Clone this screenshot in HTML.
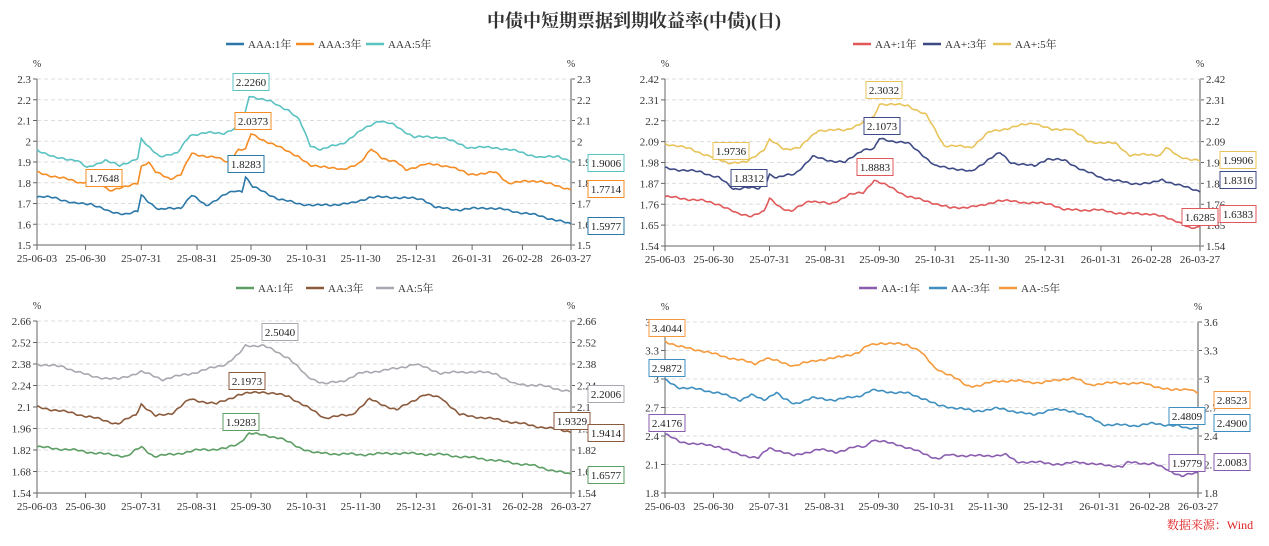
<!DOCTYPE html>
<html><head><meta charset="utf-8">
<style>
body{margin:0;background:#fff;width:1269px;height:541px;overflow:hidden;font-family:"Liberation Serif","Noto Serif CJK SC",serif;}
svg text{font-family:"Liberation Serif","Noto Serif CJK SC",serif;}
</style></head><body>
<svg id="s" width="1269" height="541" xmlns="http://www.w3.org/2000/svg">
<text x="634" y="27" text-anchor="middle" font-size="18" font-weight="bold" fill="#333">中债中短期票据到期收益率(中债)(日)</text>
<text x="1210" y="529" text-anchor="middle" font-size="12" fill="#e02020">数据来源：Wind</text>
</svg>
<script>
const S=document.getElementById('s');const NS='http://www.w3.org/2000/svg';
function el(t,a,txt){const e=document.createElementNS(NS,t);for(const k in a)e.setAttribute(k,a[k]);if(txt!==undefined)e.textContent=txt;S.appendChild(e);return e;}
const ticks=[[0,'25-06-03'],[27,'25-06-30'],[58,'25-07-31'],[89,'25-08-31'],[119,'25-09-30'],[150,'25-10-31'],[180,'25-11-30'],[211,'25-12-31'],[242,'26-01-31'],[270,'26-02-28'],[297,'26-03-27']];
function interp(kp,d){for(let i=0;i<kp.length-1;i++){if(d>=kp[i][0]&&d<=kp[i+1][0]){const t=(d-kp[i][0])/(kp[i+1][0]-kp[i][0]);return kp[i][1]+(kp[i+1][1]-kp[i][1])*t;}}return kp[kp.length-1][1];}
function chart(c){
 const {x0,x1,y0,y1,min,max,step,dec}=c;
 const Y=v=>y1-(v-min)/(max-min)*(y1-y0);const X=d=>x0+d/297*(x1-x0);
 for(let v=min;v<=max+1e-9;v+=step){const y=Y(v);const l=(+v.toFixed(dec)).toString();
  if(v>min+1e-9)el('line',{x1:x0,x2:x1,y1:y,y2:y,stroke:'#ddd','stroke-dasharray':'4,3'});
  el('line',{x1:x0-4,x2:x0,y1:y,y2:y,stroke:'#666'});el('line',{x1:x1,x2:x1+4,y1:y,y2:y,stroke:'#666'});
  el('text',{x:x0-6,y:y+4,'text-anchor':'end','font-size':11,fill:'#333'},l);
  el('text',{x:x1+6,y:y+4,'font-size':11,fill:'#333'},l);}
 el('line',{x1:x0,x2:x0,y1:y0,y2:y1,stroke:'#666'});el('line',{x1:x1,x2:x1,y1:y0,y2:y1,stroke:'#aaa','stroke-width':2});
 el('line',{x1:x0,x2:x1,y1:y1,y2:y1,stroke:'#666'});
 el('text',{x:x0,y:y0-12,'text-anchor':'middle','font-size':10,fill:'#333'},'%');
 el('text',{x:x1,y:y0-12,'text-anchor':'middle','font-size':10,fill:'#333'},'%');
 ticks.forEach(([d,l])=>{const x=X(d);el('line',{x1:x,x2:x,y1:y1,y2:y1+5,stroke:'#666'});el('text',{x:x,y:y1+17,'text-anchor':'middle','font-size':11,fill:'#333'},l);});
 let lx=c.lx;c.series.forEach((s,i)=>{el('line',{x1:lx,x2:lx+18,y1:c.ly,y2:c.ly,stroke:s.c,'stroke-width':2.5});el('text',{x:lx+22,y:c.ly+4,'font-size':11,fill:'#333'},s.n);lx+=70;});
 c.series.forEach((s,si)=>{let p='';for(let d=0;d<=297;d++){let v=interp(s.k,d);v+=(max-min)*0.004*(Math.sin(d*1.3+si)+Math.sin(d*0.37+si*2));p+=(d?'L':'M')+X(d).toFixed(1)+','+Y(v).toFixed(1);}
  el('path',{d:p,fill:'none',stroke:s.c,'stroke-width':1.6});});
 c.boxes.forEach(([t,cx,cy,col])=>{el('rect',{x:cx-18,y:cy-8.5,width:36,height:17,fill:'#fff',stroke:col,'stroke-width':1});el('text',{x:cx,y:cy+4,'text-anchor':'middle','font-size':11,fill:'#222'},t);});
}
const aaa=['#2a77a8','#f58c24','#5bc2c2'],aap=['#e0585a','#3d4a85','#e8c35a'],aa=['#5c9e64','#8b5a3c','#a8a8b0'],aam=['#8a5cb0','#3e8fc0','#f59a3c'];
chart({x0:37,x1:571,y0:79,y1:245,min:1.5,max:2.3,step:0.1,dec:1,lx:226,ly:44,series:[
{n:'AAA:1年',c:aaa[0],k:[[0,1.73],[10,1.73],[20,1.70],[30,1.70],[40,1.66],[50,1.65],[56,1.66],[58,1.74],[62,1.71],[68,1.67],[80,1.68],[86,1.74],[94,1.69],[104,1.74],[110,1.76],[114,1.76],[116,1.83],[120,1.78],[135,1.72],[145,1.70],[155,1.69],[175,1.70],[185,1.73],[200,1.73],[215,1.72],[222,1.68],[235,1.67],[250,1.68],[260,1.67],[280,1.64],[297,1.60]]},
{n:'AAA:3年',c:aaa[1],k:[[0,1.85],[15,1.82],[25,1.80],[32,1.82],[40,1.765],[50,1.78],[56,1.80],[58,1.88],[62,1.90],[66,1.85],[74,1.82],[80,1.84],[86,1.94],[100,1.92],[106,1.90],[112,1.96],[116,1.96],[119,2.035],[125,2.01],[135,1.97],[145,1.93],[152,1.88],[160,1.88],[170,1.86],[180,1.90],[186,1.96],[192,1.92],[200,1.90],[205,1.86],[215,1.89],[230,1.88],[240,1.84],[255,1.85],[262,1.80],[280,1.81],[290,1.78],[297,1.77]]},
{n:'AAA:5年',c:aaa[2],k:[[0,1.96],[10,1.92],[22,1.91],[28,1.87],[38,1.91],[46,1.88],[56,1.92],[58,2.01],[62,1.97],[68,1.93],[78,1.94],[85,2.03],[95,2.04],[104,2.04],[110,2.06],[114,2.07],[118,2.22],[130,2.19],[140,2.15],[146,2.10],[152,1.98],[158,1.96],[170,1.99],[182,2.06],[190,2.10],[198,2.08],[210,2.02],[225,2.02],[240,1.97],[255,1.97],[268,1.95],[280,1.92],[290,1.93],[297,1.90]]}],
boxes:[['2.2260',251,82,aaa[2]],['2.0373',253,121,aaa[1]],['1.8283',246,164,aaa[0]],['1.7648',104,178,aaa[1]],['1.9006',606,163,aaa[2]],['1.7714',606,189,aaa[1]],['1.5977',606,226,aaa[0]]]});
chart({x0:665,x1:1200,y0:79,y1:246,min:1.54,max:2.42,step:0.11,dec:2,lx:853,ly:44,series:[
{n:'AA+:1年',c:aap[0],k:[[0,1.80],[20,1.78],[30,1.76],[40,1.71],[48,1.70],[55,1.72],[58,1.79],[65,1.74],[70,1.72],[80,1.78],[92,1.76],[102,1.81],[110,1.82],[116,1.888],[125,1.85],[135,1.80],[148,1.77],[158,1.74],[175,1.75],[185,1.78],[200,1.77],[215,1.76],[222,1.73],[240,1.73],[255,1.71],[270,1.71],[285,1.67],[292,1.63],[297,1.64]]},
{n:'AA+:3年',c:aap[1],k:[[0,1.95],[20,1.93],[30,1.90],[38,1.84],[45,1.85],[52,1.84],[56,1.87],[58,1.92],[62,1.90],[72,1.92],[82,2.01],[92,1.99],[100,1.98],[110,2.05],[116,2.05],[119,2.105],[135,2.08],[142,2.03],[150,1.96],[160,1.95],[170,1.93],[180,2.00],[186,2.03],[192,1.98],[205,1.96],[212,2.00],[222,1.99],[232,1.94],[242,1.90],[258,1.87],[270,1.87],[276,1.89],[285,1.86],[297,1.83]]},
{n:'AA+:5年',c:aap[2],k:[[0,2.08],[15,2.05],[25,2.01],[35,1.98],[45,1.98],[55,2.05],[58,2.10],[66,2.05],[75,2.06],[85,2.15],[100,2.15],[110,2.19],[116,2.22],[119,2.29],[135,2.28],[145,2.23],[155,2.07],[170,2.06],[180,2.14],[195,2.17],[205,2.19],[215,2.15],[225,2.16],[235,2.09],[250,2.08],[258,2.02],[275,2.02],[278,2.06],[285,2.01],[297,1.99]]}],
boxes:[['2.3032',884,90,aap[2]],['2.1073',882,126,aap[1]],['1.9736',731,151,aap[2]],['1.8312',749,178,aap[1]],['1.8883',875,167,aap[0]],['1.9906',1238,160,aap[2]],['1.8316',1238,180,aap[1]],['1.6383',1238,214,aap[0]],['1.6285',1200,217,aap[0]]]});
chart({x0:37,x1:571,y0:321,y1:493,min:1.54,max:2.66,step:0.14,dec:2,lx:236,ly:288,series:[
{n:'AA:1年',c:aa[0],k:[[0,1.84],[20,1.82],[40,1.79],[50,1.78],[58,1.84],[65,1.78],[75,1.79],[90,1.82],[105,1.83],[112,1.86],[118,1.93],[135,1.90],[145,1.84],[155,1.80],[180,1.79],[200,1.80],[225,1.79],[250,1.76],[275,1.72],[297,1.66]]},
{n:'AA:3年',c:aa[1],k:[[0,2.10],[20,2.06],[35,2.02],[45,1.99],[55,2.05],[58,2.12],[66,2.04],[75,2.06],[85,2.15],[100,2.12],[112,2.18],[125,2.20],[140,2.17],[150,2.10],[160,2.03],[175,2.05],[185,2.15],[200,2.08],[215,2.18],[225,2.16],[235,2.05],[255,2.02],[275,1.98],[297,1.94]]},
{n:'AA:5年',c:aa[2],k:[[0,2.38],[15,2.36],[30,2.30],[45,2.28],[58,2.33],[70,2.28],[90,2.33],[105,2.38],[112,2.44],[116,2.50],[126,2.50],[140,2.42],[150,2.30],[160,2.25],[170,2.27],[180,2.32],[200,2.35],[210,2.38],[225,2.32],[240,2.33],[255,2.32],[265,2.25],[280,2.24],[297,2.20]]}],
boxes:[['2.5040',280,332,aa[2]],['2.1973',247,381,aa[1]],['1.9283',241,422,aa[0]],['1.9329',572,421,aa[1]],['2.2006',606,394,aa[2]],['1.9414',606,433,aa[1]],['1.6577',606,475,aa[0]]]});
chart({x0:665,x1:1198,y0:322,y1:493,min:1.8,max:3.6,step:0.3,dec:1,lx:859,ly:288,series:[
{n:'AA-:1年',c:aam[0],k:[[0,2.42],[8,2.34],[20,2.31],[30,2.29],[40,2.21],[52,2.17],[58,2.27],[65,2.24],[72,2.19],[85,2.26],[95,2.23],[105,2.28],[112,2.29],[115,2.36],[130,2.31],[142,2.23],[152,2.16],[158,2.20],[175,2.19],[190,2.20],[196,2.13],[210,2.12],[222,2.10],[230,2.13],[240,2.10],[255,2.08],[258,2.12],[272,2.11],[278,2.06],[288,1.98],[297,2.01]]},
{n:'AA-:3年',c:aam[1],k:[[0,2.99],[8,2.91],[20,2.89],[30,2.85],[42,2.78],[48,2.83],[55,2.78],[62,2.86],[66,2.79],[72,2.74],[82,2.80],[95,2.78],[108,2.82],[115,2.88],[135,2.85],[145,2.79],[152,2.72],[165,2.69],[172,2.66],[185,2.69],[195,2.66],[205,2.62],[215,2.68],[228,2.66],[238,2.58],[245,2.52],[262,2.51],[272,2.53],[285,2.51],[290,2.48],[297,2.49]]},
{n:'AA-:5年',c:aam[2],k:[[0,3.40],[8,3.34],[20,3.30],[32,3.24],[42,3.20],[50,3.16],[56,3.22],[60,3.20],[72,3.14],[85,3.20],[95,3.22],[108,3.28],[113,3.35],[120,3.38],[135,3.36],[142,3.30],[150,3.12],[160,3.03],[168,2.93],[175,2.93],[185,2.98],[195,2.98],[210,2.96],[222,3.00],[228,3.01],[236,2.94],[250,2.96],[268,2.95],[282,2.88],[292,2.90],[297,2.85]]}],
boxes:[['3.4044',667,328,aam[2]],['2.9872',667,368,aam[1]],['2.4176',667,423,aam[0]],['2.8523',1232,400,aam[2]],['2.4809',1187,416,aam[1]],['2.4900',1232,423,aam[1]],['1.9779',1187,463,aam[0]],['2.0083',1232,462,aam[0]]]});
</script>
</body></html>
